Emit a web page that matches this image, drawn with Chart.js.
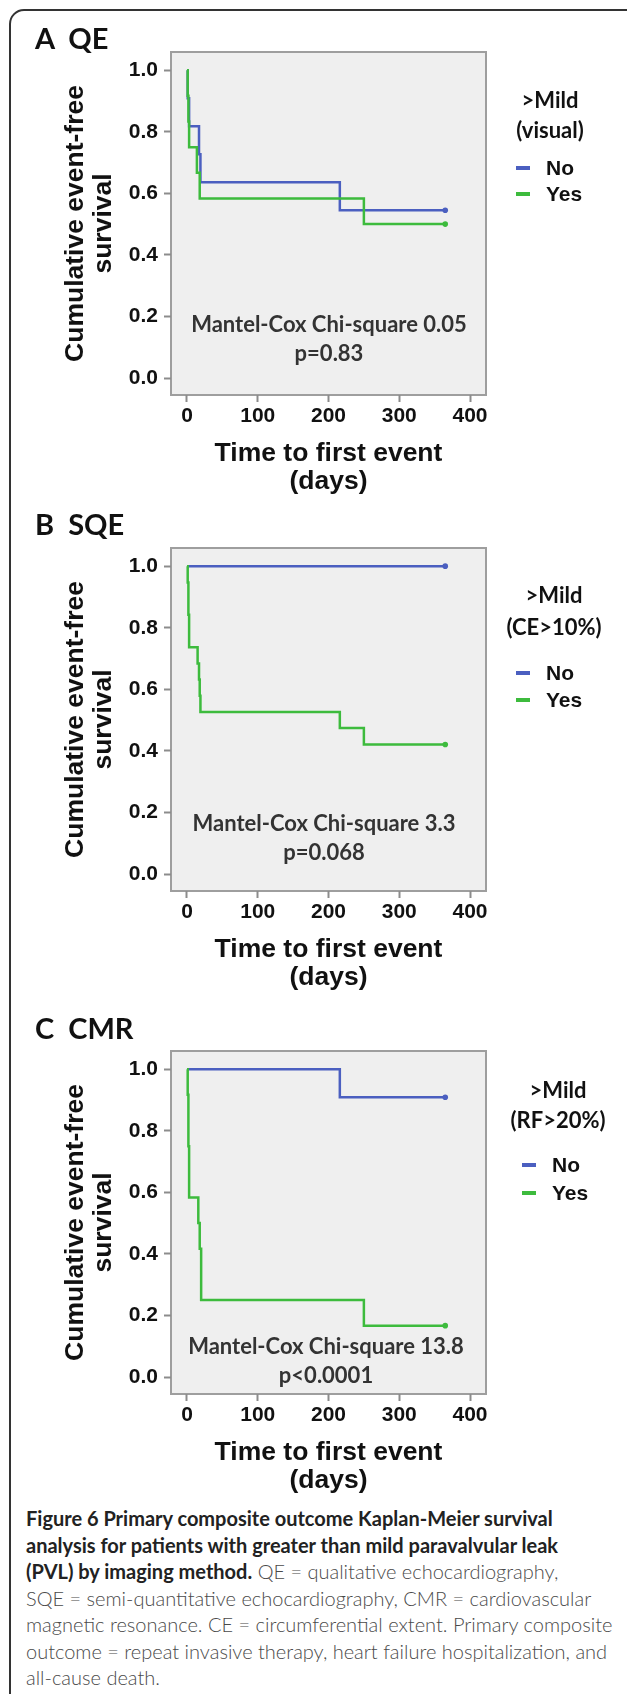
<!DOCTYPE html>
<html>
<head>
<meta charset="utf-8">
<title>Figure 6</title>
<script src="https://cdn.jsdelivr.net/npm/chart.js@4.4.1/dist/chart.umd.min.js"></script>
<style>
  html, body { margin: 0; padding: 0; background: #fff; }
  body { position: relative; width: 627px; height: 1694px; overflow: hidden; font-family: Lato, "Open Sans", sans-serif; }
  .frame { position: absolute; left: 9px; top: 9px; width: 720px; height: 1760px; border: 2px solid #333; border-radius: 15px 0 0 0; }
  canvas { position: absolute; left: 0; }
  .t { position: absolute; white-space: pre; }
  .ptitle { left: 35px; font-weight: 700; font-size: 29px; line-height: 30px; color: #111; }
  .lhead { width: 120px; text-align: center; font-weight: 700; font-size: 22px; line-height: 26px; color: #111; }
  .litem { font-family: "Liberation Sans", Arial, sans-serif; font-weight: 700; font-size: 21px; line-height: 24px; color: #111; }
  .mark { position: absolute; width: 14px; height: 4px; }
  .note { width: 320px; text-align: center; font-weight: 700; font-size: 22px; line-height: 29px; color: #333; }
  .caption { position: absolute; left: 26px; top: 1505px; font-size: 20px; line-height: 26.5px; color: #4a4a4a; font-weight: 300; white-space: nowrap; }
  .caption b { color: #222; font-weight: 700; }
</style>
</head>
<body>
<div class="frame"></div>

<canvas id="chartA" width="627" height="496" style="top:0px"></canvas>
<canvas id="chartB" width="627" height="496" style="top:496px"></canvas>
<canvas id="chartC" width="627" height="496" style="top:999px"></canvas>

<div class="t ptitle" style="top:23px">A  QE</div>
<div class="t ptitle" style="top:509px">B  SQE</div>
<div class="t ptitle" style="top:1013px">C  CMR</div>

<!-- legends -->
<div class="t lhead" style="left:490px; top:87px">&gt;Mild</div>
<div class="t lhead" style="left:490px; top:117px">(visual)</div>
<div class="mark" style="left:516px; top:166px; background:#4b5fc0"></div>
<div class="mark" style="left:516px; top:192px; background:#3dbb3d"></div>
<div class="t litem" style="left:546px; top:156px">No</div>
<div class="t litem" style="left:546px; top:182px">Yes</div>

<div class="t lhead" style="left:494px; top:582px">&gt;Mild</div>
<div class="t lhead" style="left:494px; top:614px">(CE&gt;10%)</div>
<div class="mark" style="left:516px; top:671px; background:#4b5fc0"></div>
<div class="mark" style="left:516px; top:698px; background:#3dbb3d"></div>
<div class="t litem" style="left:546px; top:661px">No</div>
<div class="t litem" style="left:546px; top:688px">Yes</div>

<div class="t lhead" style="left:498px; top:1077px">&gt;Mild</div>
<div class="t lhead" style="left:498px; top:1107px">(RF&gt;20%)</div>
<div class="mark" style="left:522px; top:1163px; background:#4b5fc0"></div>
<div class="mark" style="left:522px; top:1191px; background:#3dbb3d"></div>
<div class="t litem" style="left:552px; top:1153px">No</div>
<div class="t litem" style="left:552px; top:1181px">Yes</div>

<!-- test results -->
<div class="t note" style="left:169px; top:309px">Mantel-Cox Chi-square 0.05
p=0.83</div>
<div class="t note" style="left:164px; top:808px">Mantel-Cox Chi-square 3.3
p=0.068</div>
<div class="t note" style="left:166px; top:1331px">Mantel-Cox Chi-square 13.8
p&lt;0.0001</div>

<div class="caption"><b>Figure 6 Primary composite outcome Kaplan-Meier survival<br>analysis for patients with greater than mild paravalvular leak<br>(PVL) by imaging method.</b> QE = qualitative echocardiography,<br>SQE = semi-quantitative echocardiography, CMR = cardiovascular<br>magnetic resonance. CE = circumferential extent. Primary composite<br>outcome = repeat invasive therapy, heart failure hospitalization, and<br>all-cause death.</div>

<script>
var dayTicks = [0, 100, 200, 300, 400];
var survTicks = [0, 0.2, 0.4, 0.6, 0.8, 1.0];
var groupNames = ["No", "Yes"];

// A QE (visual)
var qeNoDays = [0, 1, 3, 17, 19, 216, 365];
var qeNoSurv = [1, 0.909, 0.818, 0.727, 0.636, 0.545, 0.545];
var qeYesDays = [0, 1, 2, 3, 14, 18, 250, 365];
var qeYesSurv = [1, 0.917, 0.833, 0.75, 0.667, 0.583, 0.5, 0.5];

// B SQE (CE>10%)
var sqeNoDays = [0, 365];
var sqeNoSurv = [1, 1];
var sqeYesDays = [0, 1, 2, 3, 15, 17, 18, 19, 216, 250, 365];
var sqeYesSurv = [1, 0.947, 0.842, 0.737, 0.684, 0.632, 0.579, 0.526, 0.474, 0.421, 0.421];

// C CMR (RF>20%)
var cmrNoDays = [0, 216, 365];
var cmrNoSurv = [1, 0.909, 0.909];
var cmrYesDays = [0, 1, 2, 3, 16, 18, 20, 250, 365];
var cmrYesSurv = [1, 0.917, 0.75, 0.583, 0.5, 0.417, 0.25, 0.167, 0.167];

var blue = "#4b5fc0";
var green = "#3dbb3d";
var axisFont = '"Liberation Sans", Arial, sans-serif';

var plotBox = {
    id: "plotBox",
    beforeDraw: function(chart) {
        var a = chart.chartArea;
        var ctx = chart.ctx;
        ctx.save();
        ctx.fillStyle = "#efefef";
        ctx.fillRect(a.left, a.top, a.right - a.left, a.bottom - a.top);
        ctx.strokeStyle = "#9e9e9e";
        ctx.lineWidth = 2;
        ctx.strokeRect(a.left, a.top, a.right - a.left, a.bottom - a.top);
        ctx.restore();
    }
};

function kmSeries(label, days, surv, color, order) {
    return {
        label: label,
        data: days.map(function(d, i) { return { x: d, y: surv[i] }; }),
        borderColor: color,
        backgroundColor: color,
        borderWidth: 2.5,
        stepped: true,
        fill: false,
        order: order,
        pointStyle: "circle",
        pointBorderWidth: 0,
        // censor mark only at the end of follow-up
        pointRadius: function(c) { return c.dataIndex === days.length - 1 ? 2.8 : 0; }
    };
}

function kmChart(id, noDays, noSurv, yesDays, yesSurv) {
    new Chart(id, {
        type: "line",
        data: {
            datasets: [
                kmSeries(groupNames[0], noDays, noSurv, blue, 1),
                kmSeries(groupNames[1], yesDays, yesSurv, green, 0)
            ]
        },
        options: {
            responsive: false,
            animation: false,
            layout: { padding: { left: 0, top: 52, right: 141, bottom: 0 } },
            plugins: {
                legend: { display: false },
                tooltip: { enabled: false }
            },
            scales: {
                x: {
                    type: "linear",
                    min: -22.6,
                    max: 422.6,
                    afterBuildTicks: function(s) { s.ticks = dayTicks.map(function(v) { return { value: v }; }); },
                    afterFit: function(s) { s.height = 101; },
                    border: { display: false },
                    grid: { drawOnChartArea: false, tickLength: 7, tickWidth: 2, tickColor: "#8c8c8c" },
                    ticks: { padding: 2, color: "#111", font: { family: axisFont, size: 21, weight: "bold" } },
                    title: {
                        display: true,
                        text: ["Time to first event", "(days)"],
                        color: "#111",
                        font: { family: axisFont, size: 26.5, weight: "bold", lineHeight: "28px" },
                        padding: { top: 0, bottom: 0 }
                    }
                },
                y: {
                    min: -0.055,
                    max: 1.059,
                    afterBuildTicks: function(s) { s.ticks = survTicks.map(function(v) { return { value: v }; }); },
                    afterFit: function(s) { s.width = 171; },
                    border: { display: false },
                    grid: { drawOnChartArea: false, tickLength: 7, tickWidth: 2, tickColor: "#8c8c8c" },
                    ticks: {
                        padding: 6,
                        color: "#111",
                        font: { family: axisFont, size: 21, weight: "bold" },
                        callback: function(v) { return v.toFixed(1); }
                    },
                    title: {
                        display: true,
                        text: ["Cumulative event-free", "survival"],
                        color: "#111",
                        font: { family: axisFont, size: 26.5, weight: "bold", lineHeight: "28px" },
                        padding: { top: 62, bottom: 0 }
                    }
                }
            }
        },
        plugins: [plotBox]
    });
}

kmChart("chartA", qeNoDays, qeNoSurv, qeYesDays, qeYesSurv);
kmChart("chartB", sqeNoDays, sqeNoSurv, sqeYesDays, sqeYesSurv);
kmChart("chartC", cmrNoDays, cmrNoSurv, cmrYesDays, cmrYesSurv);
</script>
</body>
</html>
